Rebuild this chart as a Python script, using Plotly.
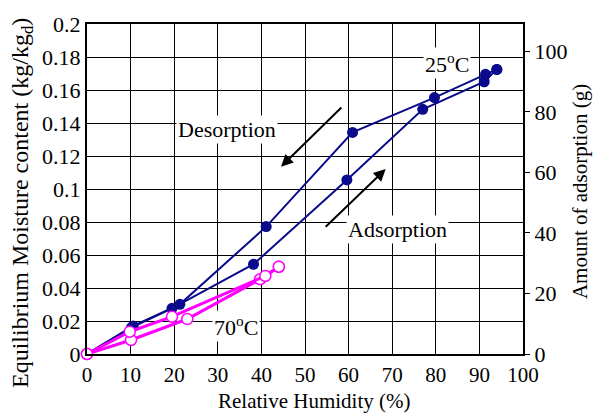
import plotly.graph_objects as go

# 25 C data (relative humidity %, moisture content kg/kg_d)
rh_ads_25 = [0, 10.2, 19.5, 38.2, 59.6, 77.0, 91.1, 94.0]
mc_ads_25 = [0, 0.0160, 0.0277, 0.0544, 0.1055, 0.1483, 0.1650, 0.1725]
rh_des_25 = [94.0, 91.4, 79.7, 60.9, 41.1, 21.3, 10.6, 0]
mc_des_25 = [0.1725, 0.1695, 0.1554, 0.1343, 0.0772, 0.0301, 0.0170, 0]

# 70 C data
rh_ads_70 = [0, 10.1, 23.0, 39.7, 44.0]
mc_ads_70 = [0, 0.0085, 0.0212, 0.0453, 0.0529]
rh_des_70 = [44.0, 40.9, 19.5, 9.8, 0]
mc_des_70 = [0.0529, 0.0473, 0.0226, 0.0135, 0]

x_ticks = [0, 10, 20, 30, 40, 50, 60, 70, 80, 90, 100]
y_ticks = [0, 0.02, 0.04, 0.06, 0.08, 0.1, 0.12, 0.14, 0.16, 0.18, 0.2]
y2_ticks = [0, 20, 40, 60, 80, 100]

BLUE = "#0a0a8c"
MAG = "#ff00ff"
FONT = "Liberation Serif"
TF = dict(family=FONT, size=22, color="black")
TF21 = dict(family=FONT, size=21, color="black")

fig = go.Figure()
for xs, ys in [(rh_ads_25, mc_ads_25), (rh_des_25, mc_des_25)]:
    fig.add_trace(go.Scatter(x=xs, y=ys, mode="lines+markers",
                             line=dict(color=BLUE, width=2),
                             marker=dict(color=BLUE, size=11, symbol="circle"),
                             showlegend=False, cliponaxis=False))
for xs, ys in [(rh_ads_70, mc_ads_70), (rh_des_70, mc_des_70)]:
    fig.add_trace(go.Scatter(x=xs, y=ys, mode="lines+markers",
                             line=dict(color=MAG, width=3),
                             marker=dict(color="white", size=11, symbol="circle",
                                         line=dict(color=MAG, width=1.5)),
                             showlegend=False, cliponaxis=False))
# dummy trace for secondary axis
fig.add_trace(go.Scatter(x=[None], y=[None], yaxis="y2", showlegend=False))

annots = [
    dict(x=82.5, y=0.1765, text="25<sup>o</sup>C"),
    dict(x=32.1, y=0.1358, text="Desorption"),
    dict(x=71.2, y=0.0752, text="Adsorption"),
    dict(x=34.1, y=0.0170, text="70<sup>o</sup>C"),
]
for a in annots:
    fig.add_annotation(x=a["x"], y=a["y"], xref="x", yref="y", text=a["text"],
                       showarrow=False, bgcolor="white", font=TF)

arrows = [
    (44.5, 0.1135, 58.7, 0.1503),
    (68.5, 0.1121, 54.4, 0.0762),
]
for hx, hy, tx, ty in arrows:
    fig.add_annotation(x=hx, y=hy, ax=tx, ay=ty, xref="x", yref="y",
                       axref="x", ayref="y", text="", showarrow=True,
                       arrowhead=2, arrowsize=1.2, arrowwidth=2, arrowcolor="black")

# axis titles as annotations (precise placement)
fig.add_annotation(x=0.521, y=-0.142, xref="paper", yref="paper",
                   text="Relative Humidity (%)", showarrow=False,
                   xanchor="center", yanchor="middle", font=TF21)
fig.add_annotation(x=-0.149, y=0.4576, xref="paper", yref="paper",
                   text="Equilibrium Moisture content (kg/kg<sub>d</sub>)",
                   showarrow=False, textangle=-90, xanchor="center", yanchor="middle",
                   font=dict(family=FONT, size=24, color="black"))
fig.add_annotation(x=1.131, y=0.491, xref="paper", yref="paper",
                   text="Amount of adsorption (g)", showarrow=False, textangle=-90,
                   xanchor="center", yanchor="middle", font=TF21)

fig.update_layout(
    width=599, height=414,
    margin=dict(l=87, r=76, t=24, b=60),
    paper_bgcolor="white", plot_bgcolor="white",
    font=TF,
    xaxis=dict(range=[0, 100], tickvals=x_ticks, showgrid=True, gridcolor="black",
               gridwidth=1.3, showline=True, linecolor="black", linewidth=2,
               mirror=True, ticks="", zeroline=False, tickfont=TF21,
               ticklabelstandoff=1),
    yaxis=dict(range=[0, 0.2], tickvals=y_ticks, showgrid=True, gridcolor="black",
               gridwidth=1.3, showline=True, linecolor="black", linewidth=2,
               ticks="", zeroline=False, tickfont=TF),
    yaxis2=dict(range=[0, 109], tickvals=y2_ticks, overlaying="y", side="right",
                showgrid=False, showline=True, linecolor="black", linewidth=2,
                ticks="outside", ticklen=5, tickcolor="black", zeroline=False,
                tickfont=TF),
)

fig.write_html("out.html")
